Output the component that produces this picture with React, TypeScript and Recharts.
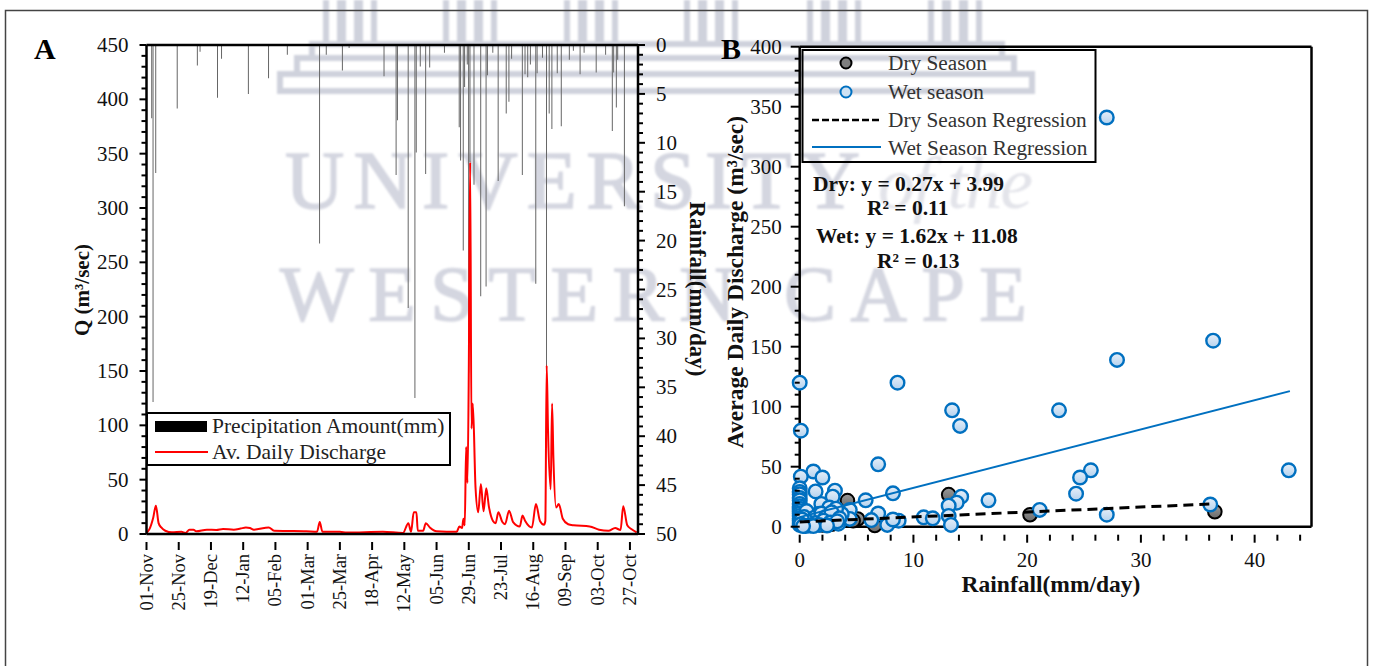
import { Bar, ComposedChart, Line, ReferenceLine, Scatter, ScatterChart, XAxis, YAxis } from "recharts";

const SERIF = "'Liberation Serif', 'Times New Roman', serif";

// Panel A: tick labels, every 24 days from 01-Nov
const dateLabels = ["01-Nov", "25-Nov", "19-Dec", "12-Jan", "05-Feb", "01-Mar", "25-Mar", "18-Apr", "12-May", "05-Jun", "29-Jun", "23-Jul", "16-Aug", "09-Sep", "03-Oct", "27-Oct"];

// Panel A: discharge (day since 01-Nov, m3/sec)
const qDays = [0, 2, 5, 7, 9, 11, 14, 19, 26, 29, 32, 35, 37, 45, 52, 57, 65, 70, 74, 77, 80, 91, 95, 105, 119, 127, 129, 131, 144, 149, 176, 191, 195, 197, 199, 201, 202, 206, 208, 211, 216, 231, 233, 235, 236, 237, 238, 239, 240, 241, 242, 243, 245, 247, 249, 251, 253, 255, 258, 260, 262, 265, 267, 270, 273, 278, 280, 282, 287, 290, 293, 296, 297, 298, 299, 301, 302, 303, 305, 307, 310, 314, 318, 330, 337, 344, 349, 353, 355, 358, 361, 365];
const qValues = [1, 4, 15, 26, 10, 6, 3, 1.5, 2, 1, 4, 4, 2.5, 4, 3.7, 4.6, 4, 5, 6, 5.5, 4, 6, 3, 2.8, 2.5, 2, 11, 2, 2, 1.3, 2, 1, 10, 2, 20, 20, 3, 3, 10, 6, 2.5, 2, 7, 5.5, 14, 8, 80, 47, 150, 342, 97, 120, 43, 20, 46, 21, 42, 25, 12, 10, 20, 11, 9, 21.5, 11, 7, 17, 12, 6, 27.6, 12, 8.6, 12, 155, 95, 41, 120, 70, 24.5, 27.6, 14, 9, 8, 7, 4, 3, 5.5, 3.7, 25.5, 8, 4.6, 1.5];

// Panel A: rainfall (day since 01-Nov, mm/day)
const rainDays = [4, 5, 7, 23, 38, 40, 53, 56, 76, 91, 105, 129, 134, 146, 151, 177, 186, 187, 195, 200, 201, 204, 208, 211, 222, 233, 234, 236, 237, 239, 240, 241, 244, 249, 253, 254, 258, 262, 268, 270, 272, 280, 282, 284, 286, 290, 291, 295, 298, 300, 302, 306, 309, 315, 318, 323, 326, 335, 342, 347, 348, 350, 351, 356];
const rainValues = [7.5, 36.5, 13.1, 6.5, 2.1, 0.7, 5.4, 1.4, 5, 3.4, 1, 20.3, 1, 2.6, 0.3, 3.2, 13.3, 7.7, 26.9, 36.1, 11, 2.2, 13.2, 2.3, 0.8, 8.4, 11.8, 21, 4.3, 2, 33.5, 12, 14.3, 25.7, 24.7, 3.1, 0.8, 13.9, 7, 5.8, 1.4, 13.3, 3, 3.3, 2, 24.4, 2.9, 1.3, 33, 7, 8.6, 2.9, 8.3, 1.5, 0.6, 3, 0.8, 2.8, 1, 8.8, 2.8, 6.4, 1.5, 16.5];

// Panel B: scatter points
const dryRain = [4.2, 13.1, 5.1, 6.6, 20.25, 36.5, 2, 2.8, 1, 0.3, 3.5, 4.7];
const dryQ = [21.7, 26.7, 6.4, 1, 10, 12.5, 1.5, 2, 2, 1.5, 4, 5];
const wetRain = [27, 36.35, 27.9, 0, 8.6, 13.4, 22.8, 14.1, 0.1, 6.9, 1.2, 25.6, 43, 2, 0.1, 24.65, 3.1, 1.4, 24.3, 2.9, 8.2, 14.2, 16.6, 5.8, 13.8, 13.1, 36.1, 21.1, 1.9, 0, 0, 0, 0, 0, 0, 0, 0, 0, 0, 0, 0, 0, 0, 0, 27, 13.1, 13.3, 10.9, 11.7, 8.7, 7.7, 8.2, 6.9, 6.3, 4.4, 4.4, 3.7, 3.1, 3.4, 2.6, 1.5, 1.6, 1, 1, 2, 2.6, 3.2, 0.6, 0.5, 0.3, 0.4, 1.3, 1.9, 2.3, 2.8, 3.5, 0.7, 1.4, 2.1, 2.7, 3.3, 0.2, 0.9, 1.7, 2.4, 0.5, 1.2, 0.1, 0.3];
const wetQ = [341, 155, 139, 120, 120, 97, 97, 84, 80, 52, 46, 47, 47, 41, 41.7, 41, 30, 29.4, 27.5, 25, 27.8, 25, 22, 22, 20, 17.5, 18.5, 14, 19, 32, 29, 27, 24, 22, 19, 17, 15, 13, 11, 9, 7, 5, 3, 1.5, 10, 9, 1.5, 7.8, 7, 5, 1.5, 6, 11, 5.5, 14, 6.5, 10.5, 9, 2.5, 5.5, 5.5, 10.5, 9, 2, 3, 16, 15, 13, 5, 3, 8, 7.5, 11, 8, 12, 7, 4, 3, 5, 3.5, 4.5, 6, 1, 1.5, 1, 0.5, 0.5, 2, 0.5];

// Panel B: regression lines as drawn (end points)
const dryLineRain = [0, 36.4];
const dryLineQ = [4, 19];
const wetLineRain = [0, 43.1];
const wetLineQ = [8, 113];

const qTicks = Array.from({ length: 46 }, (_, i) => i * 10);
const rainTicks = Array.from({ length: 51 }, (_, i) => i);
const dayTicks = dateLabels.map((_, i) => i * 24);
const bQTicks = Array.from({ length: 41 }, (_, i) => i * 10);
const bRainTicks = Array.from({ length: 23 }, (_, i) => i * 2);

const pairs = (xs: number[], ys: number[]) => xs.map((x, i) => ({ x, y: ys[i] }));

// merge both daily series on one table, keyed on the day
const allDays = Array.from(new Set([...qDays, ...rainDays])).sort((a, b) => a - b);
const dailyRows = allDays.map((day) => {
  const q = qDays.indexOf(day);
  const r = rainDays.indexOf(day);
  return { day, q: q >= 0 ? qValues[q] : undefined, rain: r >= 0 ? rainValues[r] : undefined };
});

const labelStyle = { fontFamily: SERIF, fontSize: 21, fill: "#111" };

const LeftTick = ({ x, y, payload, every, major, minor, dx }: any) => {
  const isMajor = payload.value % every === 0;
  return (
    <g>
      <line x1={x} x2={x - (isMajor ? major : minor)} y1={y} y2={y} stroke="#000" strokeWidth={2} />
      {isMajor && (
        <text x={x - dx} y={y + 7} textAnchor="end" {...labelStyle}>
          {payload.value}
        </text>
      )}
    </g>
  );
};

const RightTick = ({ x, y, payload }: any) => {
  const isMajor = payload.value % 5 === 0;
  return (
    <g>
      <line x1={x} x2={x + (isMajor ? 7 : 5)} y1={y} y2={y} stroke="#000" strokeWidth={2} />
      {isMajor && (
        <text x={x + 18} y={y + 7} {...labelStyle}>
          {payload.value}
        </text>
      )}
    </g>
  );
};

const DateTick = ({ x, y, payload }: any) => (
  <g>
    <line x1={x} x2={x} y1={y} y2={y + 8} stroke="#000" strokeWidth={2} />
    <text
      transform={`translate(${x + 6},${y + 12}) rotate(-90)`}
      textAnchor="end"
      style={{ fontFamily: SERIF, fontSize: 18.5, fill: "#111" }}
    >
      {dateLabels[payload.value / 24]}
    </text>
  </g>
);

const RainTick = ({ x, y, payload }: any) => {
  const isMajor = payload.value % 10 === 0;
  return (
    <g>
      <line x1={x} x2={x} y1={y} y2={y + (isMajor ? 8 : 6)} stroke="#000" strokeWidth={2} />
      {isMajor && (
        <text x={x} y={y + 32} textAnchor="middle" {...labelStyle}>
          {payload.value}
        </text>
      )}
    </g>
  );
};

const DryDot = ({ cx, cy }: any) => <circle cx={cx} cy={cy} r={6.8} fill="url(#dryFill)" stroke="#000" strokeWidth={2} />;
const WetDot = ({ cx, cy }: any) => <circle cx={cx} cy={cy} r={6.8} fill="url(#wetFill)" stroke="#0070c0" strokeWidth={2.4} />;
const NoDot = () => null;

const Watermark = () => (
  <svg width={1373} height={666} style={{ position: "absolute", left: 0, top: 0, filter: "blur(1.3px)" }}>
    {[326, 446, 567, 687, 810, 931].map((x) => (
      <g key={x} fill="none" stroke="#cfd2dc" strokeWidth={6}>
        <rect x={x} y={-6} width={14} height={50} />
        <rect x={x + 17} y={-6} width={14} height={50} />
        <rect x={x + 34} y={-6} width={14} height={50} />
      </g>
    ))}
    <g fill="none" stroke="#cfd2dc" strokeWidth={6}>
      <rect x={312} y={44} width={690} height={14} />
      <rect x={297} y={58} width={717} height={16} />
      <rect x={280} y={74} width={752} height={17} />
    </g>
    <text x={285} y={208} textLength={575} lengthAdjust="spacing" style={{ fontFamily: SERIF, fontSize: 82, fill: "#d4d6e0", stroke: "#d4d6e0", strokeWidth: 1.5 }}>
      UNIVERSITY
    </text>
    <text x={878} y={208} textLength={155} style={{ fontFamily: SERIF, fontStyle: "italic", fontSize: 74, fill: "#e3e4ea" }}>
      of the
    </text>
    <text x={280} y={320} textLength={747} lengthAdjust="spacing" style={{ fontFamily: SERIF, fontSize: 78, fill: "#d4d6e0", stroke: "#d4d6e0", strokeWidth: 1.5 }}>
      WESTERN CAPE
    </text>
  </svg>
);

const Overlay = () => (
  <svg width={1373} height={666} style={{ position: "absolute", left: 0, top: 0, pointerEvents: "none" }}>
    {/* outer frame, open at the bottom */}
    <path d="M5.5 666 V10.5 H1367.5 V666" fill="none" stroke="#444" strokeWidth={1.5} />

    <text x={34} y={59} style={{ fontFamily: SERIF, fontSize: 30, fontWeight: 700, fill: "#000" }}>A</text>
    <text x={721} y={59} style={{ fontFamily: SERIF, fontSize: 30, fontWeight: 700, fill: "#000" }}>B</text>

    <g style={{ fontFamily: SERIF, fontWeight: 700, fill: "#111" }}>
      <text transform="translate(89,290) rotate(-90)" textAnchor="middle" style={{ fontSize: 21 }}>Q (m³/sec)</text>
      <text transform="translate(690,289) rotate(90)" textAnchor="middle" style={{ fontSize: 23 }}>Rainfall(mm/day)</text>
      <text transform="translate(743,282) rotate(-90)" textAnchor="middle" style={{ fontSize: 23.5 }}>Average Daily Discharge (m³/sec)</text>
      <text x={1051} y={592} textAnchor="middle" style={{ fontSize: 23.5 }}>Rainfall(mm/day)</text>
      <text x={813} y={191} style={{ fontSize: 21.5 }}>Dry: y = 0.27x + 3.99</text>
      <text x={867} y={215} style={{ fontSize: 21.5 }}>R² = 0.11</text>
      <text x={816} y={243} style={{ fontSize: 21.5 }}>Wet: y = 1.62x + 11.08</text>
      <text x={877} y={268} style={{ fontSize: 21.5 }}>R² = 0.13</text>
    </g>

    {/* legend A */}
    <rect x={147} y={413} width={303} height={52} fill="#fff" stroke="#000" strokeWidth={2} />
    <rect x={155} y={421} width={52} height={11} fill="#000" />
    <line x1={155} x2={208} y1={452} y2={452} stroke="#f00" strokeWidth={2} />
    <g style={{ fontFamily: SERIF, fontSize: 21.5, fill: "#222" }}>
      <text x={212} y={433}>Precipitation Amount(mm)</text>
      <text x={212} y={459}>Av. Daily Discharge</text>
    </g>

    {/* legend B */}
    <rect x={802.5} y={50} width={293} height={112} fill="none" stroke="#000" strokeWidth={2} />
    <circle cx={846} cy={63} r={5.5} fill="#7f7f7f" stroke="#000" strokeWidth={2} />
    <circle cx={846} cy={92} r={5.5} fill="#cfe2f3" stroke="#0070c0" strokeWidth={2} />
    <line x1={812} x2={881} y1={120} y2={120} stroke="#000" strokeWidth={2.5} strokeDasharray="7 3" />
    <line x1={812} x2={881} y1={147} y2={147} stroke="#0070c0" strokeWidth={1.8} />
    <g style={{ fontFamily: SERIF, fontSize: 21.3, fill: "#333" }}>
      <text x={888} y={70}>Dry Season</text>
      <text x={888} y={99}>Wet season</text>
      <text x={888} y={127}>Dry Season Regression</text>
      <text x={888} y={155}>Wet Season Regression</text>
    </g>
  </svg>
);

export default function App() {
  return (
    <div style={{ position: "absolute", left: 0, top: 0, width: 1373, height: 666, overflow: "hidden", background: "#fff" }}>
      <Watermark />

      {/* A: rainfall hanging from the top, discharge on the left axis */}
      <div style={{ position: "absolute", left: 0, top: 0 }}>
        <ComposedChart width={720} height={666} data={dailyRows} margin={{ top: 45, right: 22, bottom: 52, left: 86.5 }}>
          <XAxis
            dataKey="day"
            type="number"
            domain={[0, 366]}
            ticks={dayTicks}
            interval={0}
            height={80}
            tick={<DateTick />}
            tickLine={false}
            axisLine={{ stroke: "#000", strokeWidth: 2.5 }}
          />
          <YAxis
            yAxisId="q"
            type="number"
            domain={[0, 450]}
            ticks={qTicks}
            interval={0}
            width={60}
            tickSize={0}
            tickMargin={0}
            tickLine={false}
            tick={<LeftTick every={50} major={7} minor={5} dx={18} />}
            axisLine={{ stroke: "#000", strokeWidth: 2.5 }}
          />
          <YAxis
            yAxisId="rain"
            orientation="right"
            reversed
            type="number"
            domain={[0, 50]}
            ticks={rainTicks}
            interval={0}
            width={60}
            tickSize={0}
            tickMargin={0}
            tickLine={false}
            tick={<RightTick />}
            axisLine={{ stroke: "#000", strokeWidth: 2.5 }}
          />
          <ReferenceLine yAxisId="q" y={450} stroke="#000" strokeWidth={2.5} />
          <Bar yAxisId="rain" dataKey="rain" barSize={1} fill="#666" isAnimationActive={false} />
          <Line yAxisId="q" dataKey="q" type="monotoneX" stroke="#f00" strokeWidth={2} dot={false} connectNulls isAnimationActive={false} />
        </ComposedChart>
      </div>

      {/* B: rainfall against discharge by season */}
      <div style={{ position: "absolute", left: 720, top: 0 }}>
        <ScatterChart width={620} height={666} margin={{ top: 46.7, right: 28.5, bottom: 79.3, left: 19.7 }}>
          <defs>
            <linearGradient id="wetFill" x1="0" y1="0" x2="0" y2="1">
              <stop offset="0%" stopColor="#e6eff9" />
              <stop offset="100%" stopColor="#b4d2ee" />
            </linearGradient>
            <linearGradient id="dryFill" x1="0" y1="0" x2="0" y2="1">
              <stop offset="0%" stopColor="#9a9a9a" />
              <stop offset="100%" stopColor="#6a6a6a" />
            </linearGradient>
          </defs>
          <XAxis
            dataKey="x"
            type="number"
            domain={[0, 45]}
            ticks={bRainTicks}
            interval={0}
            height={60}
            tick={<RainTick />}
            tickLine={false}
            axisLine={{ stroke: "#000", strokeWidth: 2.5 }}
          />
          <YAxis
            dataKey="y"
            type="number"
            domain={[0, 400]}
            ticks={bQTicks}
            interval={0}
            width={60}
            tickSize={0}
            tickMargin={0}
            tickLine={false}
            tick={<LeftTick every={50} major={9} minor={5} dx={18} />}
            axisLine={{ stroke: "#000", strokeWidth: 2.5 }}
          />
          <ReferenceLine y={400} stroke="#000" strokeWidth={2.5} />
          <ReferenceLine x={45} stroke="#000" strokeWidth={2.5} />
          <Scatter name="Dry Season" data={pairs(dryRain, dryQ)} shape={<DryDot />} isAnimationActive={false} />
          <Scatter name="Wet season" data={pairs(wetRain, wetQ)} shape={<WetDot />} isAnimationActive={false} />
          <Scatter name="Wet Season Regression" data={pairs(wetLineRain, wetLineQ)} line={{ stroke: "#0070c0", strokeWidth: 2 }} shape={<NoDot />} isAnimationActive={false} />
          <Scatter name="Dry Season Regression" data={pairs(dryLineRain, dryLineQ)} line={{ stroke: "#000", strokeWidth: 3, strokeDasharray: "10 6" }} shape={<NoDot />} isAnimationActive={false} />
        </ScatterChart>
      </div>

      <Overlay />
    </div>
  );
}
